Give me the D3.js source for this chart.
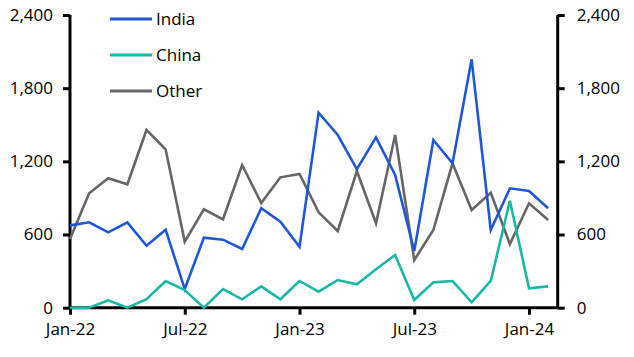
<!DOCTYPE html>
<html><head><meta charset="utf-8">
<script src="https://cdn.jsdelivr.net/npm/d3@7"></script>
<style>body{margin:0;background:#fff}svg{display:block}text{font-family:"Open Sans",sans-serif;fill:#000}</style>
</head><body><svg id="c" width="634" height="357"></svg>
<script>
const months = ["Jan-22","Feb-22","Mar-22","Apr-22","May-22","Jun-22","Jul-22","Aug-22","Sep-22","Oct-22","Nov-22","Dec-22","Jan-23","Feb-23","Mar-23","Apr-23","May-23","Jun-23","Jul-23","Aug-23","Sep-23","Oct-23","Nov-23","Dec-23","Jan-24","Feb-24"];
const india = [675,700,618,700,508,640,153,574,558,481,815,705,500,1599,1416,1135,1397,1088,465,1375,1184,2037,637,979,957,815];
const china = [0,0,60,0,70,219,145,0,153,69,175,69,219,131,227,192,315,432,63,208,219,44,219,877,159,175];
const other = [563,938,1061,1012,1457,1299,541,807,725,1170,858,1069,1096,782,629,1121,692,1416,391,637,1184,801,943,522,856,719];
const yTicks = [0,600,1200,1800,2400];
const xTickLabels = ["Jan-22","Jul-22","Jan-23","Jul-23","Jan-24"];
const seriesNames = ["India","China","Other"];
const colors = ["#1f57d6","#19b8a6","#666666"];

const svg = d3.select("#c");
const L = 70, R = 557.7, T = 15, B = 307.7;
const x = d3.scaleLinear().domain([0, 25.5]).range([L, R]);
const y = d3.scaleLinear().domain([0, 2400]).range([B, T]);

const fmt = d3.format(",");
const yl = svg.append("g").attr("transform",`translate(${L},0)`)
  .call(d3.axisLeft(y).tickValues(yTicks).tickFormat(fmt).tickSize(7).tickPadding(10));
const yr = svg.append("g").attr("transform",`translate(${R},0)`)
  .call(d3.axisRight(y).tickValues(yTicks).tickFormat(fmt).tickSize(7).tickPadding(12));
const xIdx = xTickLabels.map(l=>months.indexOf(l));
const xa = svg.append("g").attr("transform",`translate(0,${B})`)
  .call(d3.axisBottom(x).tickValues(xIdx).tickFormat(i=>months[i]).tickSize(7).tickPadding(8));
[yl,yr,xa].forEach(g=>{
  g.select(".domain").attr("stroke","#000").attr("stroke-width",3);
  g.selectAll(".tick line").attr("stroke","#000").attr("stroke-width",3);
  g.selectAll("text").style("font-size","17px").attr("fill","#000");
});
yl.select(".domain").attr("d",`M0,${T}V${B}`);
yr.select(".domain").attr("d",`M0,${T}V${B}`);
xa.select(".domain").attr("d",`M${L},0H${R}`);

const series = [india, china, other];
const order = [2, 0, 1];
const line = d3.line().x((d,i)=>x(i)).y(d=>y(d));
order.forEach(k=>{
  svg.append("path").datum(series[k]).attr("d", line)
    .attr("fill","none").attr("stroke",colors[k]).attr("stroke-width",2.6).attr("stroke-linejoin","miter");
});

const lg = svg.append("g");
seriesNames.forEach((n,k)=>{
  const yy = 19 + k*36;
  lg.append("line").attr("x1",110).attr("x2",152).attr("y1",yy).attr("y2",yy)
    .attr("stroke",colors[k]).attr("stroke-width",3);
  lg.append("text").attr("x",156).attr("y",yy).attr("dy","0.35em").style("font-size","17px").text(n);
});
</script></body></html>
